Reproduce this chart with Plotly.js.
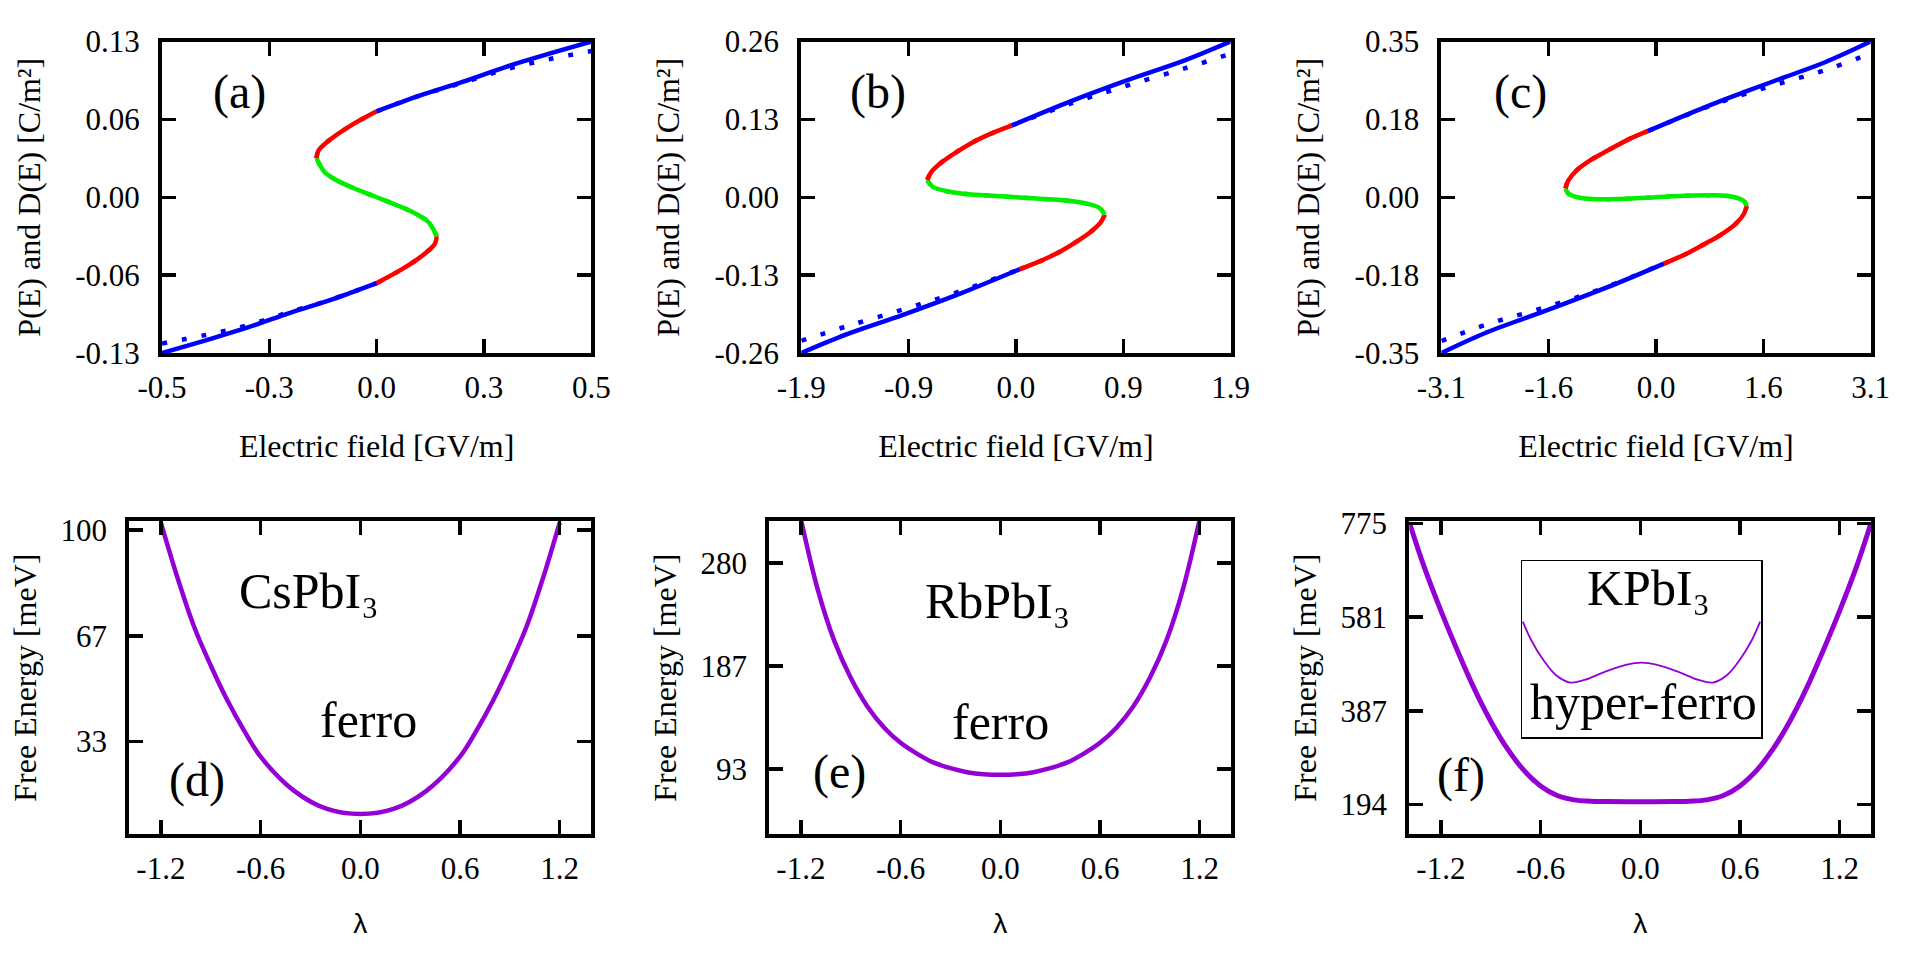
<!DOCTYPE html>
<html>
<head>
<meta charset="utf-8">
<script src="https://cdn.plot.ly/plotly-3.0.1.min.js"></script>
<style>html,body{margin:0;padding:0;background:#fff;}#chart{width:1920px;height:960px;}</style>
</head>
<body>
<div id="chart"></div>
<script>
// ---------------- DATA ----------------
// Phase labels along the P(E) curves: s = stable (blue), m = metastable (red), u = unstable (green)

// (a) CsPbI3 : E [GV/m], P [C/m^2], D [C/m^2]
const aE = [-0.50,-0.40,-0.30,-0.20,-0.10, 0.00, 0.065,0.112,0.1356, 0.140, 0.1215,0.0932,0.0556,0.0,-0.0556,-0.0932,-0.1215, -0.140, -0.1356,-0.112,-0.065, 0.00, 0.10,0.20,0.30,0.40,0.50];
const aP = [-0.130,-0.1196,-0.1087,-0.0963,-0.0848, -0.0717, -0.0588,-0.0471,-0.0389, -0.0326, -0.0211,-0.0142,-0.0079,0.0,0.0079,0.0142,0.0211, 0.0326, 0.0389,0.0471,0.0588, 0.0717, 0.0848,0.0963,0.1087,0.1196,0.130];
const aD = [-0.122,-0.1151,-0.1067,-0.0955,-0.0848, -0.0717, -0.0588,-0.0471,-0.0389, -0.0326, -0.0211,-0.0142,-0.0079,0.0,0.0079,0.0142,0.0211, 0.0326, 0.0389,0.0471,0.0588, 0.0717, 0.0848,0.0955,0.1067,0.1151,0.122];
const aPhase = ['s','s','s','s','s', 'm','m','m','m', 'u','u','u','u','u','u','u','u', 'm','m','m','m', 's','s','s','s','s','s'];

// (b) RbPbI3
const bE = [-1.9,-1.5,-1.0,-0.5, 0.035, 0.21,0.38,0.53,0.66,0.75, 0.785, 0.74,0.61,0.42,0.21,0,-0.21,-0.42,-0.61,-0.74, -0.785, -0.75,-0.66,-0.53,-0.38,-0.21, -0.035, 0.5,1.0,1.5,1.9];
const bP = [-0.260,-0.229,-0.1964,-0.1614, -0.120, -0.107,-0.092,-0.075,-0.058,-0.042, -0.029, -0.018,-0.010,-0.005,-0.0025,0,0.0025,0.005,0.010,0.018, 0.029, 0.042,0.058,0.075,0.092,0.107, 0.120, 0.1614,0.1964,0.229,0.260];
const bD = [-0.2395,-0.2155,-0.1874,-0.1574, -0.120, -0.107,-0.092,-0.075,-0.058,-0.042, -0.029, -0.018,-0.010,-0.005,-0.0025,0,0.0025,0.005,0.010,0.018, 0.029, 0.042,0.058,0.075,0.092,0.107, 0.120, 0.1574,0.1874,0.2155,0.2395];
const bPhase = ['s','s','s','s', 'm','m','m','m','m','m', 'u','u','u','u','u','u','u','u','u','u', 'm','m','m','m','m','m', 's','s','s','s','s'];

// (c) KPbI3
const cE = [-3.1,-2.45,-1.87,-1.29,-0.71, 0.115, 0.41,0.70,0.93,1.15,1.27, 1.308, 1.267,1.103,0.811,0.403,0,-0.403,-0.811,-1.103,-1.267, -1.308, -1.27,-1.15,-0.93,-0.70,-0.41, -0.115, 0.71,1.29,1.87,2.45,3.1];
const cP = [-0.350,-0.304,-0.2705,-0.2373,-0.2027, -0.149, -0.129,-0.105,-0.085,-0.060,-0.037, -0.0199, -0.0085,0.0011,0.0045,0.0033,0,-0.0033,-0.0045,-0.0011,0.0085, 0.0199, 0.037,0.060,0.085,0.105,0.129, 0.149, 0.2027,0.2373,0.2705,0.304,0.350];
const cD = [-0.323,-0.286,-0.2595,-0.2323,-0.2012, -0.149, -0.129,-0.105,-0.085,-0.060,-0.037, -0.0199, -0.0085,0.0011,0.0045,0.0033,0,-0.0033,-0.0045,-0.0011,0.0085, 0.0199, 0.037,0.060,0.085,0.105,0.129, 0.149, 0.2012,0.2323,0.2595,0.286,0.323];
const cPhase = ['s','s','s','s','s', 'm','m','m','m','m','m', 'u','u','u','u','u','u','u','u','u','u', 'm','m','m','m','m','m', 's','s','s','s','s','s'];

// Free energy vs lambda [meV]
const dLam = [-1.2,-1.1,-1.0,-0.9,-0.8,-0.7,-0.6,-0.4,-0.2,0,0.2,0.4,0.6,0.7,0.8,0.9,1.0,1.1,1.2];
const dF   = [102.4,85.0,69.5,57.3,46.3,36.8,28.5,17.8,12.0,10.4,12.0,17.8,28.5,36.8,46.3,57.3,69.5,85.0,102.4];
const eLam = [-1.2,-1.1,-1.0,-0.9,-0.8,-0.7,-0.6,-0.5,-0.4,-0.3,-0.2,-0.1,0,0.1,0.2,0.3,0.4,0.5,0.6,0.7,0.8,0.9,1.0,1.1,1.2];
const eF   = [320,257,210,176,150,131,117,107,99,94,90.4,88.5,88,88.5,90.4,94,99,107,117,131,150,176,210,257,320];
const fLam = [-1.39,-1.3,-1.2,-1.1,-1.0,-0.9,-0.8,-0.7,-0.6,-0.5,-0.4,-0.3,-0.2,0,0.2,0.3,0.4,0.5,0.6,0.7,0.8,0.9,1.0,1.1,1.2,1.3,1.39];
const fF   = [778,685,595,512,434,366,309,264,232,212,203,200.3,199.5,199.2,199.5,200.3,203,212,232,264,309,366,434,512,595,685,778];
// schematic double well in the (f) inset (arbitrary units)
const insetLam = [-0.993,-0.924,-0.821,-0.717,-0.597,-0.476,-0.303,-0.131,0,0.131,0.303,0.476,0.597,0.717,0.821,0.924,0.993];
const insetF   = [0.657,0.553,0.439,0.354,0.311,0.326,0.373,0.411,0.424,0.411,0.373,0.326,0.311,0.354,0.439,0.553,0.657];

// tick values / labels
const aXTicks = [-0.5,-0.25,0,0.25,0.5],   aXText = ['-0.5','-0.3','0.0','0.3','0.5'];
const aYTicks = [-0.13,-0.065,0,0.065,0.13], aYText = ['-0.13','-0.06','0.00','0.06','0.13'];
const bXTicks = [-1.9,-0.95,0,0.95,1.9],   bXText = ['-1.9','-0.9','0.0','0.9','1.9'];
const bYTicks = [-0.26,-0.13,0,0.13,0.26], bYText = ['-0.26','-0.13','0.00','0.13','0.26'];
const cXTicks = [-3.1,-1.55,0,1.55,3.1],   cXText = ['-3.1','-1.6','0.0','1.6','3.1'];
const cYTicks = [-0.35,-0.175,0,0.175,0.35], cYText = ['-0.35','-0.18','0.00','0.18','0.35'];
const lamTicks = [-1.2,-0.6,0,0.6,1.2],    lamText = ['-1.2','-0.6','0.0','0.6','1.2'];
const dYTicks = [33.333,66.667,100],       dYText = ['33','67','100'];
const eYTicks = [93.333,186.667,280],      eYText = ['93','187','280'];
const fYTicks = [193.75,387.5,581.25,775], fYText = ['194','387','581','775'];

// ---------------- DRAWING ----------------
const SERIF = 'Liberation Serif, Times New Roman, serif';
const phaseColor = {s:'#0000ff', m:'#ff0000', u:'#00ee00'};
const PURPLE = '#9400d3';

function segments(xs, ys, ph) {
  const segs = []; let cur = null;
  for (let i = 0; i < xs.length; i++) {
    if (!cur || ph[i] !== cur.phase) {
      if (cur) { cur.x.push(xs[i]); cur.y.push(ys[i]); }
      cur = {phase: ph[i], x: [xs[i]], y: [ys[i]]};
      segs.push(cur);
    } else { cur.x.push(xs[i]); cur.y.push(ys[i]); }
  }
  return segs;
}

const traces = [];
[[aE,aP,aD,aPhase,'x','y'],[bE,bP,bD,bPhase,'x2','y2'],[cE,cP,cD,cPhase,'x3','y3']].forEach(([E,P,D,ph,xa,ya]) => {
  segments(E, D, ph).forEach(s => traces.push({type:'scatter', mode:'lines', x:s.x, y:s.y, xaxis:xa, yaxis:ya,
    line:{color:phaseColor[s.phase], width:4.5, dash:'5px,15px', shape:'spline'}, hoverinfo:'skip'}));
  segments(E, P, ph).forEach(s => traces.push({type:'scatter', mode:'lines', x:s.x, y:s.y, xaxis:xa, yaxis:ya,
    line:{color:phaseColor[s.phase], width:4.5, shape:'spline'}, hoverinfo:'skip'}));
});
traces.push({type:'scatter', mode:'lines', x:dLam, y:dF, xaxis:'x4', yaxis:'y4', line:{color:PURPLE, width:4.5, shape:'spline'}, hoverinfo:'skip'});
traces.push({type:'scatter', mode:'lines', x:eLam, y:eF, xaxis:'x5', yaxis:'y5', line:{color:PURPLE, width:4.5, shape:'spline'}, hoverinfo:'skip'});
traces.push({type:'scatter', mode:'lines', x:fLam, y:fF, xaxis:'x6', yaxis:'y6', line:{color:PURPLE, width:5, shape:'spline'}, hoverinfo:'skip'});
traces.push({type:'scatter', mode:'lines', x:insetLam, y:insetF, xaxis:'x7', yaxis:'y7', line:{color:PURPLE, width:1.8, shape:'spline'}, hoverinfo:'skip'});

const dx = (l, r) => [(l + 2) / 1920, (r - 2) / 1920];
const dy = (t, b) => [1 - (b - 2) / 960, 1 - (t + 2) / 960];

function ax(extra) {
  return Object.assign({
    showline:true, linecolor:'#000', linewidth:4, mirror:'allticks',
    ticks:'inside', ticklen:14, tickwidth:3.5, tickcolor:'#000',
    showgrid:false, zeroline:false, tickmode:'array', fixedrange:true,
    tickfont:{family:SERIF, size:31, color:'#000'}
  }, extra);
}
const xTitleE = {text:'Electric field [GV/m]', font:{family:SERIF, size:32, color:'#000'}, standoff:31};
const yTitleP = {text:'P(E) and D(E) [C/m²]', font:{family:SERIF, size:32, color:'#000'}, standoff:26};
const xTitleL = {text:'λ', font:{family:'Liberation Sans, DejaVu Sans, sans-serif', size:28, color:'#000'}, standoff:29};
const yTitleF = {text:'Free Energy [meV]', font:{family:SERIF, size:32, color:'#000'}, standoff:15};
const XS = 4, YS = 12;

const TOP = [39.5, 355], BOT = [519.3, 836];
const layout = {
  width:1920, height:960, margin:{l:0, r:0, t:0, b:0}, paper_bgcolor:'#fff', plot_bgcolor:'rgba(0,0,0,0)',
  showlegend:false,
  xaxis:  ax({domain:dx(160,593.3),   anchor:'y',  range:[-0.5,0.5], tickvals:aXTicks, ticktext:aXText, ticklabelstandoff:XS, title:xTitleE}),
  yaxis:  ax({domain:dy(TOP[0],TOP[1]), anchor:'x',  range:[-0.13,0.13], tickvals:aYTicks, ticktext:aYText, ticklabelstandoff:YS, title:yTitleP}),
  xaxis2: ax({domain:dx(799.3,1232.6), anchor:'y2', range:[-1.9,1.9], tickvals:bXTicks, ticktext:bXText, ticklabelstandoff:XS, title:xTitleE}),
  yaxis2: ax({domain:dy(TOP[0],TOP[1]), anchor:'x2', range:[-0.26,0.26], tickvals:bYTicks, ticktext:bYText, ticklabelstandoff:YS, title:yTitleP}),
  xaxis3: ax({domain:dx(1439.4,1872.7),anchor:'y3', range:[-3.1,3.1], tickvals:cXTicks, ticktext:cXText, ticklabelstandoff:XS, title:xTitleE}),
  yaxis3: ax({domain:dy(TOP[0],TOP[1]), anchor:'x3', range:[-0.35,0.35], tickvals:cYTicks, ticktext:cYText, ticklabelstandoff:YS, title:yTitleP}),
  xaxis4: ax({domain:dx(127.3,593.3),  anchor:'y4', range:[-1.39,1.39], tickvals:lamTicks, ticktext:lamText, ticklabelstandoff:XS, title:xTitleL}),
  yaxis4: ax({domain:dy(BOT[0],BOT[1]), anchor:'x4', range:[4.1,102.8], tickvals:dYTicks, ticktext:dYText, ticklabelstandoff:YS, title:yTitleF}),
  xaxis5: ax({domain:dx(767.3,1233.3), anchor:'y5', range:[-1.39,1.39], tickvals:lamTicks, ticktext:lamText, ticklabelstandoff:XS, title:xTitleL}),
  yaxis5: ax({domain:dy(BOT[0],BOT[1]), anchor:'x5', range:[34.3,318], tickvals:eYTicks, ticktext:eYText, ticklabelstandoff:YS, title:yTitleF}),
  xaxis6: ax({domain:dx(1407.3,1873.3),anchor:'y6', range:[-1.39,1.39], tickvals:lamTicks, ticktext:lamText, ticklabelstandoff:XS, title:xTitleL}),
  yaxis6: ax({domain:dy(BOT[0],BOT[1]), anchor:'x6', range:[132.4,779.8], tickvals:fYTicks, ticktext:fYText, ticklabelstandoff:YS, title:yTitleF}),
  xaxis7: {domain:[1522/1920,1761/1920], anchor:'y7', range:[-1,1], showline:true, mirror:true, linecolor:'#000', linewidth:1.5,
           ticks:'', showticklabels:false, showgrid:false, zeroline:false, fixedrange:true},
  yaxis7: {domain:[1-737.3/960,1-561.3/960], anchor:'x7', range:[0,1], showline:true, mirror:true, linecolor:'#000', linewidth:1.5,
           ticks:'', showticklabels:false, showgrid:false, zeroline:false, fixedrange:true},
  annotations: []
};

function note(text, x, y, size) {
  layout.annotations.push({text:text, xref:'paper', yref:'paper', x:x/1920, y:1-y/960, xanchor:'center', yanchor:'middle',
    showarrow:false, font:{family:SERIF, size:size, color:'#000'}});
}
note('(a)', 239, 92, 48);
note('(b)', 878, 92, 48);
note('(c)', 1520, 92, 48);
note('(d)', 197, 780, 48);
note('(e)', 839, 772, 48);
note('(f)', 1461, 775, 48);
note('CsPbI₃', 309, 591, 50);
note('ferro', 368, 720, 50);
note('RbPbI₃', 997, 601, 50);
note('ferro', 1000, 722, 50);
note('KPbI₃', 1648, 588, 50);
note('hyper-ferro', 1643, 702, 50);

Plotly.newPlot('chart', traces, layout, {staticPlot:true, displayModeBar:false});
</script>
</body>
</html>
